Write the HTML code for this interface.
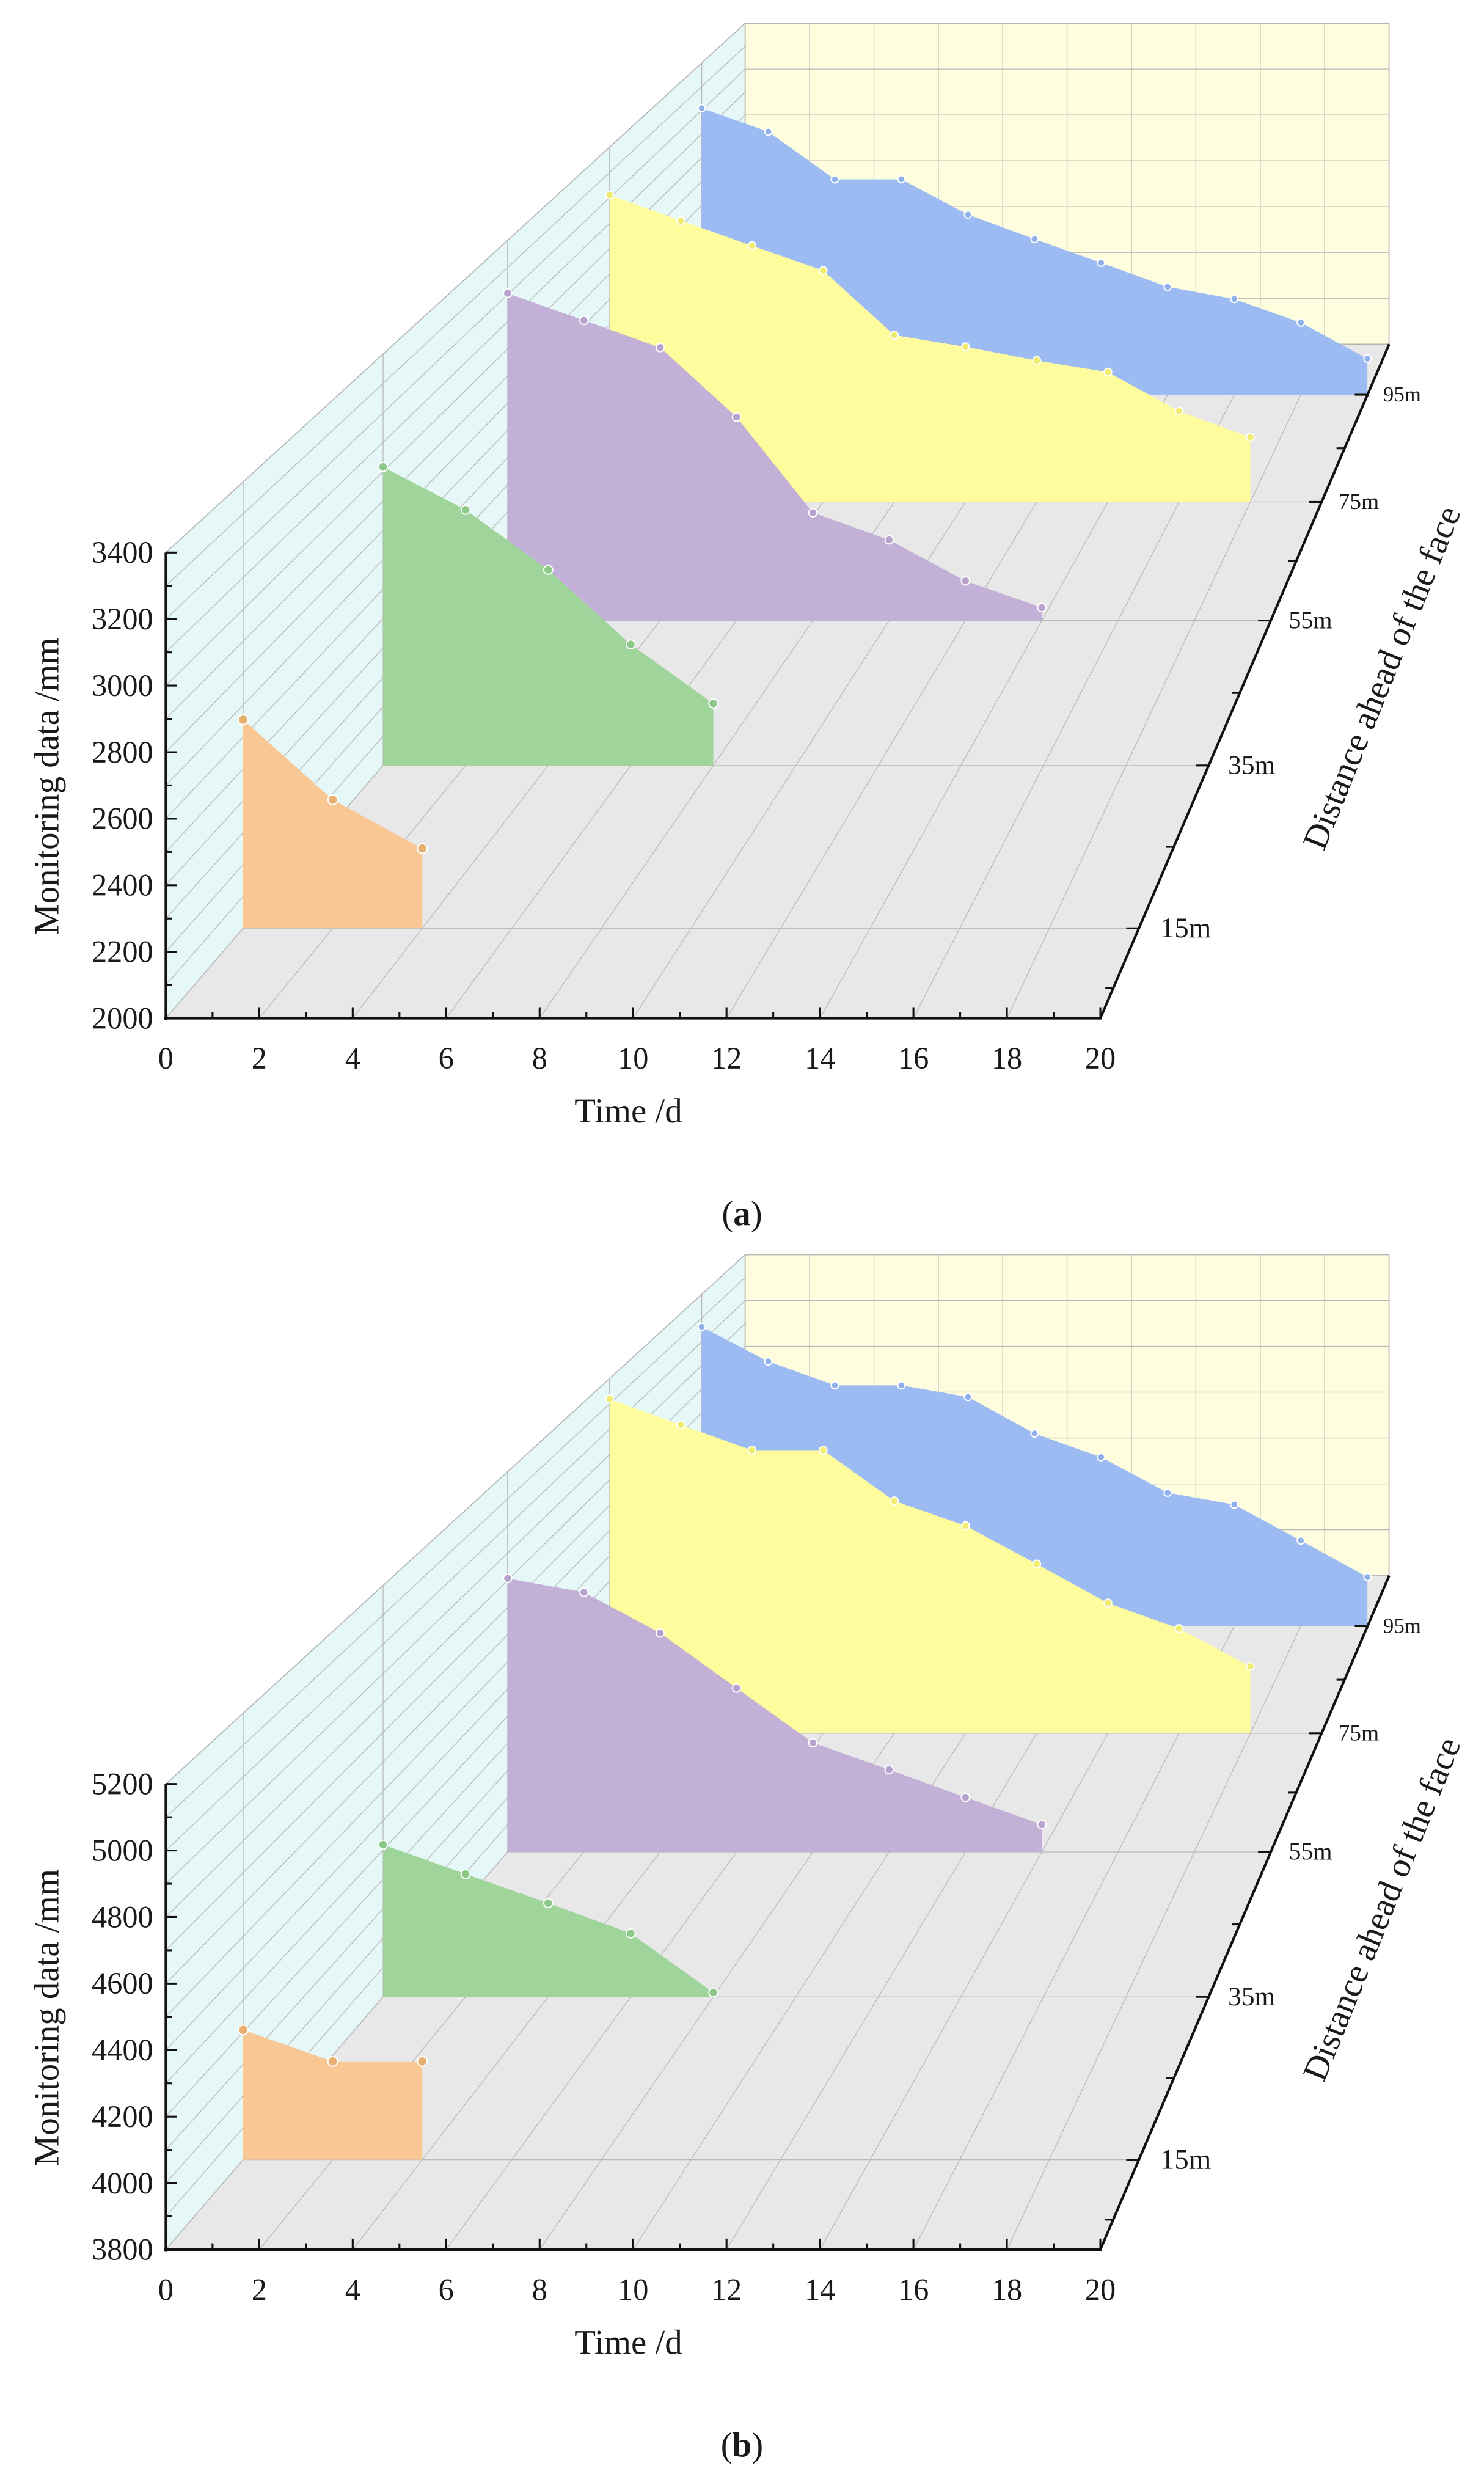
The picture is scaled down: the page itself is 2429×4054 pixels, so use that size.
<!DOCTYPE html>
<html><head><meta charset="utf-8">
<style>
html,body{margin:0;padding:0;background:#fff;}
svg{display:block;}
text{font-family:"Liberation Serif",serif;fill:#1a1a1a;}
</style></head>
<body>
<svg id="chart" xmlns="http://www.w3.org/2000/svg" width="2429" height="4054" viewBox="0 0 940 1569"></svg>
<script>
// ---------- data ----------
const timeTicks = [0,2,4,6,8,10,12,14,16,18,20];
const depthLabels = ['15m','35m','55m','75m','95m'];
const depthValues = [15,35,55,75,95];
const seriesNames = ['15m','35m','55m','75m','95m'];
const seriesColors = ['#f9c794','#9fd59a','#c2b0d6','#fefc9c','#9bbbf2'];
const markerColors = ['#e8b070','#8cc887','#b6a2cc','#f0ec70','#8fb0ea'];
const timesA = [[0,2,4],[0,2,4,6,8],[0,2,4,6,8,10,12,14],[0,2,4,6,8,10,12,14,16,18],[0,2,4,6,8,10,12,14,16,18,20]];
const valuesA15 = [2654,2403,2250];
const valuesA35 = [3016,2870,2666,2412,2211];
const valuesA55 = [3205,3105,3005,2749,2397,2297,2146,2048];
const valuesA75 = [3211,3110,3011,2913,2658,2612,2558,2512,2358,2255];
const valuesA95 = [3209,3110,2909,2909,2760,2657,2557,2455,2404,2304,2152];
const valuesB15 = [4207,4108,4108];
const valuesB35 = [4318,4218,4119,4016,3815];
const valuesB55 = [4807,4756,4606,4403,4202,4103,4001,3901];
const valuesB75 = [5119,5017,4917,4917,4717,4619,4468,4314,4213,4064];
const valuesB95 = [5063,4917,4816,4816,4767,4613,4513,4363,4313,4161,4007];
const yTicksA = [2000,2200,2400,2600,2800,3000,3200,3400];
const yTicksB = [3800,4000,4200,4400,4600,4800,5000,5200];

// ---------- layout / projection ----------
const NS='http://www.w3.org/2000/svg';
const svg=document.getElementById('chart');
const DEPTH_POS=[[0,0],[15,0.1335],[35,0.375],[55,0.59],[75,0.766],[95,0.925],[100,1]];
function depthU(d){for(let i=1;i<DEPTH_POS.length;i++){const a=DEPTH_POS[i-1],b=DEPTH_POS[i];if(d<=b[0])return a[1]+(b[1]-a[1])*(d-a[0])/(b[0]-a[0]);}return 1;}
function mk(tag,attrs,parent){const e=document.createElementNS(NS,tag);for(const k in attrs)e.setAttribute(k,attrs[k]);(parent||svg).appendChild(e);return e;}

function drawPanel(label,oy,ymin,yTicks,times,vals){
  const g=mk('g',{});
  
  
  const ymax=yTicks[yTicks.length-1];
  const P=(t,v,u)=>{const k=1-0.311*u;return [105+367*u+t*29.6*k, oy+645-427*u-(v-ymin)*(295/(ymax-ymin))*k];};
  const pts=a=>a.map(p=>p[0].toFixed(2)+','+p[1].toFixed(2)).join(' ');
  // left wall
  const wall=mk('polygon',{points:pts([P(0,ymin,0),P(0,ymax,0),P(0,ymax,1),P(0,ymin,1)]),fill:'#e5f7f7',stroke:'#999','stroke-width':0.6},g);
  
  
  // floor
  const floor=mk('polygon',{points:pts([P(0,ymin,0),P(20,ymin,0),P(20,ymin,1),P(0,ymin,1)]),fill:'#e8e8e8'},g);
  
  
  // back wall
  const back=mk('polygon',{points:pts([P(0,ymin,1),P(0,ymax,1),P(20,ymax,1),P(20,ymin,1)]),fill:'#fefdde',stroke:'#999','stroke-width':0.6},g);
  
  
  const gl={stroke:'#b8b8b8','stroke-width':0.5,fill:'none'};
  // grids
  timeTicks.forEach(t=>{const a=P(t,ymin,0),b=P(t,ymin,1),c=P(t,ymax,1);
    const l=mk('polyline',Object.assign({points:pts([a,b,c])},gl),g);
    
    });
  for(let v=ymin;v<=ymax;v+=100){const a=P(0,v,0),b=P(0,v,1);
    const l=mk('polyline',Object.assign({points:pts(v%200===(ymin%200)?[a,b,P(20,v,1)]:[a,b])},gl),g);
    
    }
  depthValues.forEach(d=>{const u=depthU(d);
    const l=mk('polyline',Object.assign({points:pts([P(0,ymax,u),P(0,ymin,u),P(20,ymin,u)])},gl),g);
    
    });
  // series back to front
  for(let s=4;s>=0;s--){
    const u=depthU(depthValues[s]);const tt=times[s],vv=vals[s];
    const top=tt.map((t,i)=>P(t,vv[i],u));
    const poly=[P(tt[0],ymin,u)].concat(top,[P(tt[tt.length-1],ymin,u)]);
    const sg=mk('g',{},g);
    
    
    const p=mk('polygon',{points:pts(poly),fill:seriesColors[s]},sg);
    
    
    top.forEach(q=>{const c=mk('circle',{cx:q[0].toFixed(2),cy:q[1].toFixed(2),r:(3.2*(1-0.311*u)).toFixed(2),fill:markerColors[s],stroke:'#fff','stroke-width':0.8},sg);
      
      });
  }
  // axes
  const ax={stroke:'#111','stroke-width':1.6,fill:'none'};
  const yAxis=mk('line',Object.assign({x1:105,y1:oy+350,x2:105,y2:oy+646},ax),g);
  
  
  const xAxis=mk('line',Object.assign({x1:104,y1:oy+645,x2:698,y2:oy+645},ax),g);
  
  
  const zAxis=mk('line',Object.assign({x1:697,y1:oy+645,x2:880,y2:oy+218},ax),g);
  
  
  for(let v=ymin;v<=ymax;v+=100){const y=P(0,v,0)[1];const major=(v-ymin)%200===0;
    mk('line',{x1:105,y1:y,x2:major?112:109,y2:y,stroke:'#111','stroke-width':1.2},g);}
  yTicks.forEach(v=>{const y=P(0,v,0)[1];
    const t=mk('text',{x:97,y:y+6.5,'font-size':19.5,'text-anchor':'end'},g);t.textContent=v;
    
    });
  for(let t=0;t<=20;t++){const x=P(t,ymin,0)[0];
    mk('line',{x1:x,y1:oy+645,x2:x,y2:oy+645-(t%2===0?7:4),stroke:'#111','stroke-width':1.2},g);}
  timeTicks.forEach(t=>{const x=P(t,ymin,0)[0];
    const e=mk('text',{x:x,y:oy+677,'font-size':19.5,'text-anchor':'middle'},g);e.textContent=t;
    
    });
  for(let d=5;d<=95;d+=10){const q=P(20,ymin,depthU(d));const major=(d-15)%20===0;
    mk('line',{x1:q[0],y1:q[1],x2:q[0]-(major?8:5),y2:q[1],stroke:'#111','stroke-width':1.2},g);}
  depthValues.forEach((d,i)=>{const u=depthU(d);const q=P(20,ymin,u);const k=1-0.311*u;
    const e=mk('text',{x:q[0]+14*k,y:q[1]+6*k,'font-size':(19*k).toFixed(1)},g);e.textContent=depthLabels[i];
    
    });
  const xt=mk('text',{x:398,y:oy+711,'font-size':22,'text-anchor':'middle'},g);xt.textContent='Time /d';
  
  
  const yt=mk('text',{x:0,y:0,'font-size':22,'text-anchor':'middle',transform:`translate(37,${oy+498}) rotate(-90)`},g);yt.textContent='Monitoring data /mm';
  
  
  const zt=mk('text',{x:0,y:0,'font-size':22,'text-anchor':'middle',transform:`translate(882,${oy+432}) rotate(-68)`},g);zt.textContent='Distance ahead of the face';
  
  
  const pl=mk('text',{x:470,y:oy+776,'font-size':22,'text-anchor':'middle'},g);
  pl.innerHTML='(<tspan font-weight="bold">'+label+'</tspan>)';
  
  
}
drawPanel('a',0,2000,yTicksA,timesA,[valuesA15,valuesA35,valuesA55,valuesA75,valuesA95]);
drawPanel('b',780,3800,yTicksB,timesA,[valuesB15,valuesB35,valuesB55,valuesB75,valuesB95]);
</script>
</body></html>
